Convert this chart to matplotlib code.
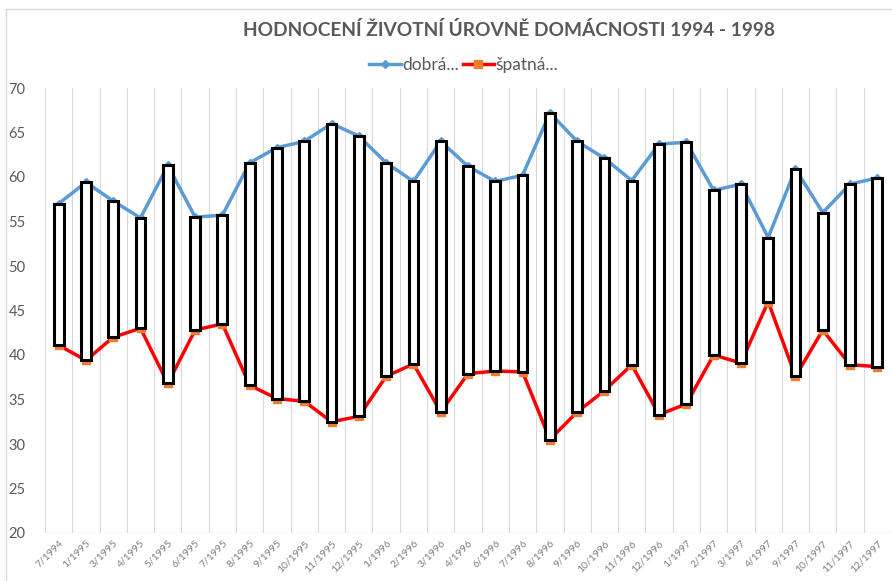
## HODNOCENI ZIVOTNI UROVNE DOMACNOSTI
import numpy as np
import matplotlib.pyplot as plt
from matplotlib.lines import Line2D

# Data (odhad z obrazku)
obdobi = ["7/1994", "1/1995", "3/1995", "4/1995", "5/1995", "6/1995", "7/1995",
          "8/1995", "9/1995", "10/1995", "11/1995", "12/1995", "1/1996", "2/1996",
          "3/1996", "4/1996", "6/1996", "7/1996", "8/1996", "9/1996", "10/1996",
          "11/1996", "12/1996", "1/1997", "2/1997", "3/1997", "4/1997", "9/1997",
          "10/1997", "11/1997", "12/1997"]
dobra = [57.0, 59.4, 57.3, 55.4, 61.3, 55.5, 55.7, 61.6, 63.3, 64.0, 66.0, 64.6,
         61.6, 59.5, 64.0, 61.2, 59.5, 60.2, 67.2, 64.0, 62.1, 59.6, 63.7, 63.9,
         58.5, 59.2, 53.2, 60.9, 56.0, 59.2, 59.9]
spatna = [41.1, 39.4, 42.0, 43.0, 36.8, 42.8, 43.5, 36.6, 35.1, 34.8, 32.5, 33.1,
          37.6, 39.0, 33.6, 37.9, 38.2, 38.1, 30.5, 33.6, 36.0, 38.9, 33.3, 34.5,
          40.0, 39.1, 46.0, 37.6, 42.8, 38.9, 38.7]

plt.rcParams['font.family'] = ['Lato', 'DejaVu Sans']
seda = "#595959"

fig = plt.figure(figsize=(8.92, 5.81), dpi=100)
ax = fig.add_axes([45/892, 1 - 533/581, 846/892, 445/581])

x = np.arange(len(obdobi))
d = np.array(dobra); s = np.array(spatna)

# mrizka mezi kategoriemi
for g in np.arange(-0.5, len(obdobi) + 0.5, 1):
    ax.axvline(g, color="#D9D9D9", lw=0.8, zorder=0)
ax.axhline(20, color="#D9D9D9", lw=1, zorder=0)

ax.plot(x, d, color="#5B9BD5", lw=2.5, marker="D", ms=4, zorder=2)
ax.plot(x, s, color="#FF0000", lw=2.5, marker="s", ms=6,
        mfc="#ED7D31", mec="#ED7D31", zorder=2)
# up/down bary
ax.bar(x, d - s, bottom=s, width=0.36, facecolor="white", edgecolor="black",
       lw=2.2, zorder=3)

ax.set_xlim(-0.5, len(obdobi) - 0.5)
ax.set_ylim(20, 70)
ax.set_yticks(np.arange(20, 71, 5))
ax.set_xticks(x)
ax.set_xticklabels(obdobi, rotation=45, ha="right", rotation_mode="anchor",
                   fontsize=7.5, color="#7F7F7F")
ax.tick_params(axis="y", length=0, labelsize=10.5, labelcolor=seda, pad=14)
ax.tick_params(axis="x", length=0, pad=4)
for sp in ax.spines.values():
    sp.set_visible(False)

fig.text(0.571, 0.948, "HODNOCENÍ ŽIVOTNÍ ÚROVNĚ DOMÁCNOSTI 1994 - 1998",
         ha="center", va="center", fontsize=13.8, fontweight="bold", color=seda)

h1 = Line2D([], [], color="#5B9BD5", lw=2.5, marker="D", ms=4)
h2 = Line2D([], [], color="#FF0000", lw=2.5, marker="s", ms=6,
            mfc="#ED7D31", mec="#ED7D31")
fig.legend([h1, h2], ["dobrá...", "špatná..."], loc="center",
           bbox_to_anchor=(0.52, 0.888), ncol=2, frameon=False,
           fontsize=12.5, labelcolor=seda, handlelength=1.8, handletextpad=0.1,
           columnspacing=0.2)

# okraj grafu
fig.add_artist(Line2D([6/892, 6/892], [0, 1 - 9/581], color="#D9D9D9", lw=1))
fig.add_artist(Line2D([6/892, 1], [1 - 9/581, 1 - 9/581], color="#D9D9D9", lw=1))

fig.savefig("out.png", dpi=100)
